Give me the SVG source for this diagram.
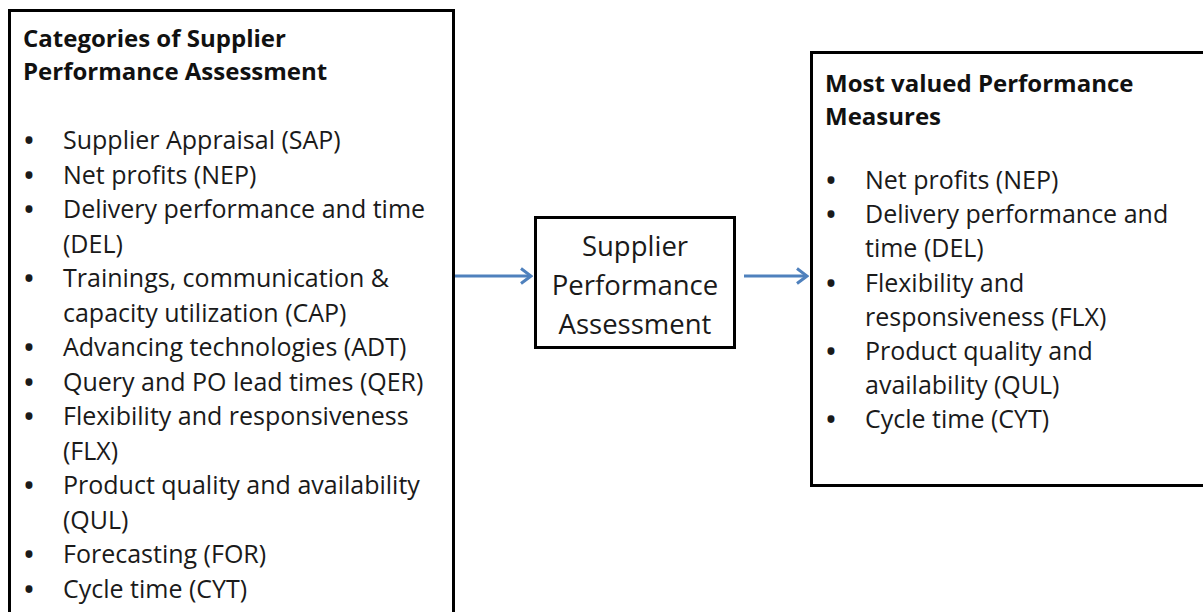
<svg xmlns="http://www.w3.org/2000/svg" width="1203" height="612" viewBox="0 0 1203 612">
<style>
.box{fill:#fff;stroke:#000;stroke-width:3}
.t{font-family:"Open Sans","Liberation Sans",sans-serif;font-size:25px;fill:#1a1a1a}
.h{font-family:"Open Sans","Liberation Sans",sans-serif;font-size:24px;font-weight:bold;fill:#111}
.m{font-family:"Open Sans","Liberation Sans",sans-serif;font-size:27.5px;fill:#1a1a1a;text-anchor:middle}
.b{font-family:"Open Sans","Liberation Sans",sans-serif;font-size:25px;font-weight:bold;fill:#1a1a1a;text-anchor:middle}
.c{stroke:#4F81BD;stroke-width:3;fill:none}
</style>
<defs>
<marker id="ah" markerWidth="14" markerHeight="18" refX="12" refY="9" orient="auto" markerUnits="userSpaceOnUse">
<path d="M2,1.5 L12,9 L2,16.5" fill="none" stroke="#4F81BD" stroke-width="3" stroke-linejoin="miter"/>
</marker>
</defs>
<rect width="1203" height="612" fill="#fff"/>
<g id="categories">
<rect class="box" x="9.5" y="10.5" width="444" height="620"/>
<text class="h" x="23" y="47">Categories of Supplier</text>
<text class="h" x="23" y="80">Performance Assessment</text>
<text class="b" x="29" y="149">•</text><text class="t" x="63" y="149">Supplier Appraisal (SAP)</text>
<text class="b" x="29" y="183.5">•</text><text class="t" x="63" y="183.5">Net profits (NEP)</text>
<text class="b" x="29" y="218">•</text><text class="t" x="63" y="218">Delivery performance and time</text>
<text class="t" x="63" y="252.5">(DEL)</text>
<text class="b" x="29" y="287">•</text><text class="t" x="63" y="287">Trainings, communication &amp;</text>
<text class="t" x="63" y="321.5">capacity utilization (CAP)</text>
<text class="b" x="29" y="356">•</text><text class="t" x="63" y="356">Advancing technologies (ADT)</text>
<text class="b" x="29" y="390.5">•</text><text class="t" x="63" y="390.5">Query and PO lead times (QER)</text>
<text class="b" x="29" y="425">•</text><text class="t" x="63" y="425">Flexibility and responsiveness</text>
<text class="t" x="63" y="459.5">(FLX)</text>
<text class="b" x="29" y="494">•</text><text class="t" x="63" y="494">Product quality and availability</text>
<text class="t" x="63" y="528.5">(QUL)</text>
<text class="b" x="29" y="563">•</text><text class="t" x="63" y="563">Forecasting (FOR)</text>
<text class="b" x="29" y="597.5">•</text><text class="t" x="63" y="597.5">Cycle time (CYT)</text>
</g>
<g id="assessment">
<rect class="box" x="535.5" y="217.5" width="199" height="130"/>
<text class="m" x="635" y="256">Supplier</text>
<text class="m" x="635" y="295">Performance</text>
<text class="m" x="635" y="334">Assessment</text>
</g>
<g id="measures">
<rect class="box" x="811.5" y="52.5" width="400" height="433"/>
<text class="h" x="825" y="92">Most valued Performance</text>
<text class="h" x="825" y="125">Measures</text>
<text class="b" x="831" y="189">•</text><text class="t" x="865" y="189">Net profits (NEP)</text>
<text class="b" x="831" y="223.2">•</text><text class="t" x="865" y="223.2">Delivery performance and</text>
<text class="t" x="865" y="257.4">time (DEL)</text>
<text class="b" x="831" y="291.6">•</text><text class="t" x="865" y="291.6">Flexibility and</text>
<text class="t" x="865" y="325.8">responsiveness (FLX)</text>
<text class="b" x="831" y="360">•</text><text class="t" x="865" y="360">Product quality and</text>
<text class="t" x="865" y="394.2">availability (QUL)</text>
<text class="b" x="831" y="428.4">•</text><text class="t" x="865" y="428.4">Cycle time (CYT)</text>
</g>
<g id="connectors">
<path class="c" d="M455,276 H531" marker-end="url(#ah)"/>
<path class="c" d="M744,276 H807" marker-end="url(#ah)"/>
</g>
</svg>
